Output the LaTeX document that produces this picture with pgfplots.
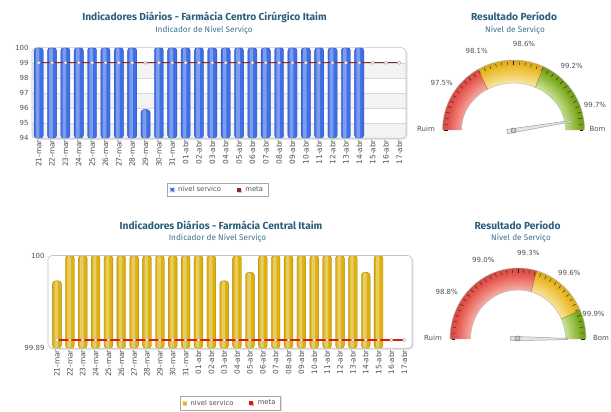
\documentclass[border=0pt]{standalone}
\usepackage{pgfplots}
\pgfplotsset{compat=1.18}
\usetikzlibrary{shadows}
\usepackage{fontspec}
\setmainfont{DejaVu Sans}
\newfontfamily\titlefont{Fira Sans}
\definecolor{titleblue}{HTML}{2B5E7E}
\definecolor{subblue}{HTML}{3F6F8F}
\definecolor{labgray}{HTML}{505050}
\definecolor{framegray}{HTML}{C4C4C4}
\definecolor{gridgray}{HTML}{D8D8D8}
\definecolor{bandgray}{HTML}{F3F3F3}
\definecolor{blueBase}{HTML}{3F6FE6}
\definecolor{blueD}{HTML}{2A50B8}
\definecolor{yelBase}{HTML}{DDB210}
\definecolor{yelD}{HTML}{A88400}
\definecolor{metaA}{HTML}{8C2A2A}
\definecolor{metaB}{HTML}{E3170A}
\definecolor{redout}{HTML}{E5554C}
\definecolor{redin}{HTML}{F8B4AC}
\definecolor{yelout}{HTML}{E9B825}
\definecolor{yelin}{HTML}{FAE6A2}
\definecolor{grnout}{HTML}{7EAA1E}
\definecolor{grnin}{HTML}{D2E8A0}
\pgfdeclareradialshading{gR}{\pgfpointorigin}{color(0bp)=(redin); color(17bp)=(redin); color(23bp)=(redout); color(25bp)=(redout!92!black); color(50bp)=(redout!92!black)}
\pgfdeclareradialshading{gY}{\pgfpointorigin}{color(0bp)=(yelin); color(17bp)=(yelin); color(23bp)=(yelout); color(25bp)=(yelout!92!black); color(50bp)=(yelout!92!black)}
\pgfdeclareradialshading{gG}{\pgfpointorigin}{color(0bp)=(grnin); color(17bp)=(grnin); color(23bp)=(grnout); color(25bp)=(grnout!92!black); color(50bp)=(grnout!92!black)}
% band: center, start angle, end angle, outer rx, outer ry, inner rx, inner ry
\newcommand{\bandpath}[7]{([shift={(#2:#4 and #5)}]#1) arc[start angle=#2, end angle=#3, x radius=#4, y radius=#5] -- ([shift={(#3:#6 and #7)}]#1) arc[start angle=#3, end angle=#2, x radius=#6, y radius=#7] -- cycle}
\newcommand{\band}[8]{\begin{scope}\clip \bandpath{#1}{#2}{#3}{#4}{#5}{#6}{#7};
\shade[shading=#8] (#1) ellipse[x radius=#4, y radius=#5];\end{scope}}
\pgfplotsset{
  barchart/.style={scale only axis, enlargelimits=false, clip=true,
    axis line style={draw=none}, tick style={draw=none},
    xtick={0,...,27},
    xticklabels={21-mar,22-mar,23-mar,24-mar,25-mar,26-mar,27-mar,28-mar,29-mar,30-mar,31-mar,01-abr,02-abr,03-abr,04-abr,05-abr,06-abr,07-abr,08-abr,09-abr,10-abr,11-abr,12-abr,13-abr,14-abr,15-abr,16-abr,17-abr},
    x tick label style={rotate=90, anchor=east, font=\fontsize{7.4}{8}\selectfont, text=labgray, inner sep=1.5pt},
    y tick label style={font=\fontsize{7}{8}\selectfont, text=labgray},
    /pgf/number format/assume math mode=true,
    legend columns=2,
    legend cell align=left,
    after end axis/.code={\draw[framegray, line width=0.6pt, rounded corners=4pt] (rel axis cs:0,0) rectangle (rel axis cs:1,1);},
  },
  legbox/.style={anchor=center, draw=gray!70, fill=white, font=\fontsize{6.8}{7.5}\selectfont, text=labgray,
    inner xsep=3pt, inner ysep=1.5pt, drop shadow={shadow xshift=1pt, shadow yshift=-1pt, opacity=0.25},
    /tikz/every odd column/.append style={column sep=2.5pt},
    /tikz/every even column/.append style={column sep=14pt}},
}
\begin{document}
\begin{tikzpicture}
\useasboundingbox (0,0) rectangle (611pt,412pt);
% titles
\node[font=\titlefont\bfseries\fontsize{10.2}{12}\selectfont, text=titleblue] at (204.5pt,395pt) {Indicadores Diários - Farmácia Centro Cirúrgico Itaim};
\node[font=\titlefont\fontsize{8.2}{9}\selectfont, text=subblue] at (204pt,382pt) {Indicador de Nível Serviço};
\node[font=\titlefont\bfseries\fontsize{10.2}{12}\selectfont, text=titleblue] at (221pt,187pt) {Indicadores Diários - Farmácia Central Itaim};
\node[font=\titlefont\fontsize{8.2}{9}\selectfont, text=subblue] at (217.5pt,174pt) {Indicador de Nível Serviço};
\node[font=\titlefont\bfseries\fontsize{10.2}{12}\selectfont, text=titleblue] at (514pt,396pt) {Resultado Período};
\node[font=\titlefont\fontsize{8.2}{9}\selectfont, text=subblue] at (515pt,382pt) {Nível de Serviço};
\node[font=\titlefont\bfseries\fontsize{10.2}{12}\selectfont, text=titleblue] at (517.5pt,187pt) {Resultado Período};
\node[font=\titlefont\fontsize{8.2}{9}\selectfont, text=subblue] at (521pt,174pt) {Nível de Serviço};
% frame shadows
\fill[gray!22, rounded corners=4pt] (33.5pt,272.2pt) rectangle (407.5pt,362.8pt);
\fill[white, rounded corners=4pt] (32pt,273.7pt) rectangle (406pt,364.3pt);
\fill[gray!22, rounded corners=4pt] (49.5pt,62.2pt) rectangle (413.5pt,155pt);
\fill[white, rounded corners=4pt] (48pt,63.7pt) rectangle (412pt,156.5pt);

% ---------- top bar chart ----------
\begin{axis}[barchart, at={(32pt,273.7pt)}, anchor=south west, width=374pt, height=90.6pt,
  xmin=-0.5, xmax=27.5, ymin=94, ymax=100, ytick={94,95,96,97,98,99,100},
  yticklabels={94,95,96,97,98,99,100},
  legend style={legbox, at={(0.497,-0.567)}}]
\fill[bandgray] (axis cs:-0.5,98) rectangle (axis cs:27.5,99);
\fill[bandgray] (axis cs:-0.5,96) rectangle (axis cs:27.5,97);
\fill[bandgray] (axis cs:-0.5,94) rectangle (axis cs:27.5,95);
\draw[gridgray] (axis cs:-0.5,95) -- (axis cs:27.5,95);
\draw[gridgray] (axis cs:-0.5,96) -- (axis cs:27.5,96);
\draw[gridgray] (axis cs:-0.5,97) -- (axis cs:27.5,97);
\draw[gridgray] (axis cs:-0.5,98) -- (axis cs:27.5,98);
\draw[gridgray] (axis cs:-0.5,99) -- (axis cs:27.5,99);
\addplot[ybar, bar width=9.2pt, draw=blueD, line width=0.35pt, fill=blueBase, rounded corners=3pt,
  legend image code/.code={\fill[blueBase] (0pt,-1.3pt) rectangle (2.6pt,1.3pt);}]
coordinates {(0,100) (1,100) (2,100) (3,100) (4,100) (5,100) (6,100) (7,100) (8,95.9) (9,100) (10,100) (11,100) (12,100) (13,100) (14,100) (15,100) (16,100) (17,100) (18,100) (19,100) (20,100) (21,100) (22,100) (23,100) (24,100)};
\addlegendentry{nivel servico}
\addplot[ybar, forget plot, bar width=3.6pt, bar shift=-1pt, draw=none, fill=white, fill opacity=0.32, rounded corners=1.6pt]
coordinates {(0,100) (1,100) (2,100) (3,100) (4,100) (5,100) (6,100) (7,100) (8,95.9) (9,100) (10,100) (11,100) (12,100) (13,100) (14,100) (15,100) (16,100) (17,100) (18,100) (19,100) (20,100) (21,100) (22,100) (23,100) (24,100)};
\addplot[sharp plot, color=metaA, line width=1.4pt, mark=*, mark size=1.7pt, mark options={fill=white, draw=gray!70, line width=0.4pt},
  legend image code/.code={\fill[metaA] (0pt,-1.3pt) rectangle (2.6pt,1.3pt);}]
coordinates {(0,99) (1,99) (2,99) (3,99) (4,99) (5,99) (6,99) (7,99) (8,99) (9,99) (10,99) (11,99) (12,99) (13,99) (14,99) (15,99) (16,99) (17,99) (18,99) (19,99) (20,99) (21,99) (22,99) (23,99) (24,99) (25,99) (26,99) (27,99)};
\addlegendentry{meta}
\end{axis}

% ---------- bottom bar chart ----------
\begin{axis}[barchart, at={(48pt,63.7pt)}, anchor=south west, width=364pt, height=92.8pt,
  xmin=-0.7, xmax=27.6, ymin=99.89, ymax=100, ytick={99.89,100},
  yticklabels={99.89,100},
  legend style={legbox, at={(0.501,-0.592)}}]
\addplot[ybar, bar width=8.8pt, draw=yelD, line width=0.35pt, fill=yelBase, rounded corners=3pt,
  legend image code/.code={\fill[yelBase] (0pt,-1.3pt) rectangle (2.6pt,1.3pt);}]
coordinates {(0,99.97) (1,100) (2,100) (3,100) (4,100) (5,100) (6,100) (7,100) (8,100) (9,100) (10,100) (11,100) (12,100) (13,99.97) (14,100) (15,99.98) (16,100) (17,100) (18,100) (19,100) (20,100) (21,100) (22,100) (23,100) (24,99.98) (25,100)};
\addlegendentry{nivel servico}
\addplot[ybar, forget plot, bar width=3.4pt, bar shift=-0.8pt, draw=none, fill=white, fill opacity=0.35, rounded corners=1.6pt]
coordinates {(0,99.97) (1,100) (2,100) (3,100) (4,100) (5,100) (6,100) (7,100) (8,100) (9,100) (10,100) (11,100) (12,100) (13,99.97) (14,100) (15,99.98) (16,100) (17,100) (18,100) (19,100) (20,100) (21,100) (22,100) (23,100) (24,99.98) (25,100)};
\addplot[sharp plot, color=metaB, line width=1.3pt, mark=*, mark size=1.7pt, mark options={fill=white, draw=gray!70, line width=0.4pt},
  legend image code/.code={\fill[metaB] (0pt,-1.3pt) rectangle (2.6pt,1.3pt);}]
coordinates {(0,99.9) (1,99.9) (2,99.9) (3,99.9) (4,99.9) (5,99.9) (6,99.9) (7,99.9) (8,99.9) (9,99.9) (10,99.9) (11,99.9) (12,99.9) (13,99.9) (14,99.9) (15,99.9) (16,99.9) (17,99.9) (18,99.9) (19,99.9) (20,99.9) (21,99.9) (22,99.9) (23,99.9) (24,99.9) (25,99.9) (26,99.9) (27,99.9)};
\addlegendentry{meta}
\end{axis}

% ---------- gauges ----------
\coordinate (C1) at (513.5pt,282pt);
\coordinate (C2) at (518pt,73pt);
\band{C1}{180}{120}{71pt}{70pt}{52pt}{47pt}{gR}
\band{C1}{120}{65}{71pt}{70pt}{52pt}{47pt}{gY}
\band{C1}{65}{0}{71pt}{70pt}{52pt}{47pt}{gG}
\draw[gray!60, line width=0.4pt] \bandpath{C1}{180}{0}{71pt}{70pt}{52pt}{47pt};
\draw[redout!70!black, line width=0.3pt] ([shift={(120:71pt and 70pt)}]C1) -- ([shift={(120:52pt and 47pt)}]C1);
\draw[grnout!70!black, line width=0.3pt] ([shift={(65:71pt and 70pt)}]C1) -- ([shift={(65:52pt and 47pt)}]C1);
\foreach \a in {0,5,...,180} \draw[gray!20!black, line width=0.35pt] ([shift={(\a:69.5pt and 68.5pt)}]C1) -- ([shift={(\a:66pt and 65pt)}]C1);
\band{C2}{180}{74}{68pt}{71pt}{47.5pt}{49pt}{gR}
\band{C2}{74}{24}{68pt}{71pt}{47.5pt}{49pt}{gY}
\band{C2}{24}{0}{68pt}{71pt}{47.5pt}{49pt}{gG}
\draw[gray!60, line width=0.4pt] \bandpath{C2}{180}{0}{68pt}{71pt}{47.5pt}{49pt};
\draw[redout!70!black, line width=0.3pt] ([shift={(74:68pt and 71pt)}]C2) -- ([shift={(74:47.5pt and 49pt)}]C2);
\draw[grnout!70!black, line width=0.3pt] ([shift={(24:68pt and 71pt)}]C2) -- ([shift={(24:47.5pt and 49pt)}]C2);
\foreach \a in {0,5,...,180} \draw[gray!20!black, line width=0.35pt] ([shift={(\a:66.5pt and 69.5pt)}]C2) -- ([shift={(\a:63pt and 66pt)}]C2);
\begin{scope}[font=\fontsize{7}{8}\selectfont, text=labgray]
\node at (441.7pt,328.7pt) {97.5\%};
\node at (476.7pt,361pt) {98.1\%};
\node at (524pt,367.7pt) {98.6\%};
\node at (571.7pt,346.3pt) {99.2\%};
\node at (595pt,307pt) {99.7\%};
\node at (426pt,282.7pt) {Ruim};
\node at (597.5pt,282.7pt) {Bom};
\node at (446.7pt,120.3pt) {98.8\%};
\node at (483.3pt,152pt) {99.0\%};
\node at (528.3pt,159.3pt) {99.3\%};
\node at (569.3pt,138.7pt) {99.6\%};
\node at (593.5pt,98pt) {99.9\%};
\node at (433pt,73.7pt) {Ruim};
\node at (601pt,73.7pt) {Bom};
\end{scope}
% needles through an overlay axis in pt units
\begin{axis}[at={(0pt,0pt)}, anchor=south west, scale only axis, width=611pt, height=412pt,
  xmin=0, xmax=611, ymin=0, ymax=412, hide axis, clip=false, enlargelimits=false]
\addplot[fill=gray!20, draw=gray!75, line width=0.5pt] coordinates {(506.7,282.6) (571.9,291.6) (572.1,290.4) (507.5,278.2)} -- cycle;
\addplot[only marks, mark=*, mark size=2.6pt, mark options={fill=gray!45, draw=gray!80!black, line width=0.4pt}] coordinates {(513.5,281.5)};
\addplot[fill=gray!20, draw=gray!75, line width=0.5pt] coordinates {(510.5,75.7) (567.5,73.6) (567.5,72.4) (510.5,71.3)} -- cycle;
\addplot[only marks, mark=*, mark size=2.6pt, mark options={fill=gray!45, draw=gray!80!black, line width=0.4pt}] coordinates {(517.5,73.5)};
\end{axis}
\end{tikzpicture}
\end{document}
